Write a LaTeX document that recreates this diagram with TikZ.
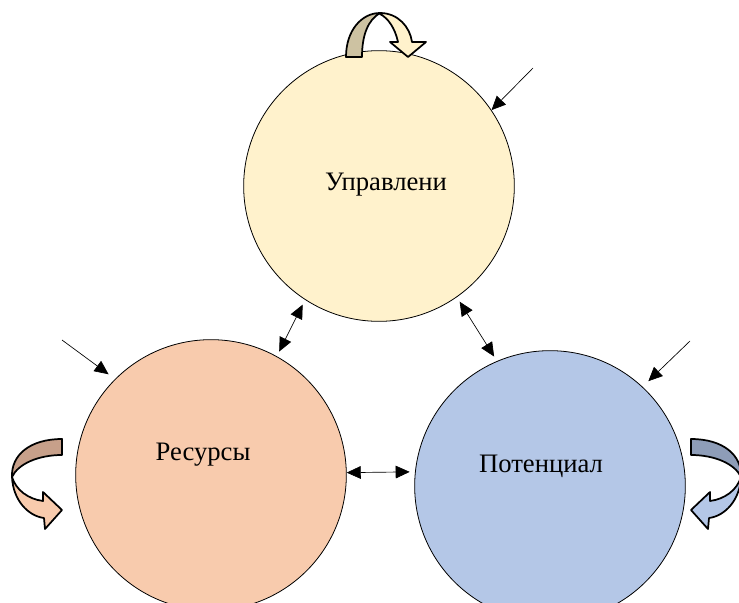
\documentclass[tikz,border=0pt]{standalone}
\usepackage{fontspec}
\setmainfont{Liberation Serif}
\usetikzlibrary{arrows.meta}

\definecolor{uprfill}{HTML}{FFF2CC}
\definecolor{uprdark}{HTML}{CDC2A2}
\definecolor{resfill}{HTML}{F8CBAD}
\definecolor{resdark}{HTML}{C7A08A}
\definecolor{potfill}{HTML}{B4C7E7}
\definecolor{potdark}{HTML}{8E9DB8}

\begin{document}
\begin{tikzpicture}[
  x=0.75pt,y=-0.75pt,
  font=\fontsize{20}{24}\selectfont,
  sphere/.style={draw,circle,line width=0.6pt,minimum size=203pt,inner sep=0pt},
  lbl/.style={inner sep=0pt},
  link/.style={{Triangle[length=10.5pt,width=9.5pt]}-{Triangle[length=10.5pt,width=9.5pt]},line width=0.5pt},
  feed/.style={-{Triangle[length=10.5pt,width=9.5pt]},line width=0.5pt},
  band/.style={draw,line width=1.3pt,line join=round},
]
  \useasboundingbox (0,0) rectangle (739,603);

  % three circles
  \node[sphere,fill=uprfill] (upr) at (379,186) {};
  \node[sphere,fill=resfill] (res) at (211,475) {};
  \node[sphere,fill=potfill] (pot) at (550,486) {};

  \node[lbl] (uprT) at ([shift={(7,-1)}]upr.center) {Управлени};
  \node[lbl] (resT) at ([shift={(-8,-20)}]res.center) {Ресурсы};
  \node[lbl] (potT) at ([shift={(-9,-20)}]pot.center) {Потенциал};

  % links between circles
  \draw[link,shorten <=4pt,shorten >=4pt] (upr.237) -- (res.61);
  \draw[link,shorten <=4pt,shorten >=4pt] (upr.305) -- (pot.113);
  \draw[link,shorten <=0pt,shorten >=4pt] (res.1) -- (pot.174);

  % incoming arrows
  \coordinate (inU) at (533,68);
  \coordinate (inR) at (62,340);
  \coordinate (inP) at (690,341);
  \draw[feed] (inU) -- (upr.34);
  \draw[feed,shorten >=6pt] (inR) -- (res.135);
  \draw[feed,shorten >=6pt] (inP) -- (pot.47);

  % curved arrow above Управлени
  \draw[band,fill=uprdark] (346,57) .. controls (346,30) and (362,13) .. (380,13)
    .. controls (368,20) and (362,35) .. (362,57) -- cycle;
  \draw[band,fill=uprfill] (380,13) .. controls (398,13) and (410,27) .. (412,42)
    -- (426,42) -- (408,57) -- (390,42) -- (398,42)
    .. controls (395,28) and (388,18) .. (380,14) -- cycle;

  % curved arrow left of Ресурсы
  \draw[band,fill=resdark] (62,439) .. controls (30,439) and (11,455) .. (12,477)
    .. controls (18,464) and (38,455) .. (62,455) -- cycle;
  \draw[band,fill=resfill] (12,477) .. controls (13,500) and (28,516) .. (44,518)
    -- (45,529) -- (62,510) -- (43,492) -- (43,501)
    .. controls (28,499) and (16,490) .. (12,477) -- cycle;

  % curved arrow right of Потенциал
  \begin{scope}[shift={(753,0)},xscale=-1]
    \draw[band,fill=potdark] (62,439) .. controls (30,439) and (11,455) .. (12,477)
      .. controls (18,464) and (38,455) .. (62,455) -- cycle;
    \draw[band,fill=potfill] (12,477) .. controls (13,500) and (28,516) .. (44,518)
      -- (45,529) -- (62,510) -- (43,492) -- (43,501)
      .. controls (28,499) and (16,490) .. (12,477) -- cycle;
  \end{scope}
\end{tikzpicture}
\end{document}
